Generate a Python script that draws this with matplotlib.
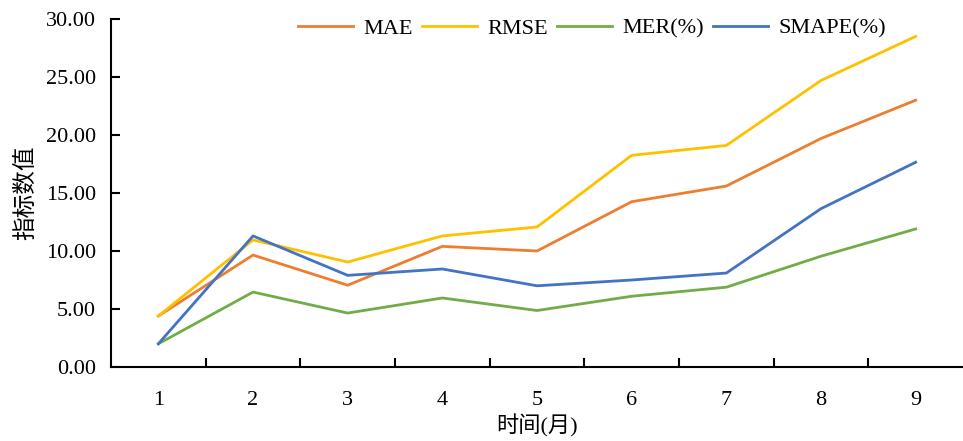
import matplotlib
matplotlib.use('Agg')
import numpy as np
from matplotlib import pyplot as plt
from matplotlib.ticker import FixedLocator, FormatStrFormatter

plt.rcParams['font.family'] = ['Liberation Serif', 'Noto Sans CJK SC']

# 数据
months = [1, 2, 3, 4, 5, 6, 7, 8, 9]
mae = [4.40, 9.65, 7.05, 10.40, 10.00, 14.25, 15.60, 19.70, 23.00]
rmse = [4.40, 10.95, 9.05, 11.30, 12.07, 18.25, 19.10, 24.70, 28.50]
mer = [2.00, 6.46, 4.65, 5.95, 4.87, 6.10, 6.88, 9.55, 11.90]
smape = [2.00, 11.30, 7.90, 8.45, 7.00, 7.50, 8.10, 13.65, 17.65]

series = [('MAE', mae, '#ED7D31'),
          ('RMSE', rmse, '#FFC000'),
          ('MER(%)', mer, '#70AD47'),
          ('SMAPE(%)', smape, '#4472C4')]

fig = plt.figure(figsize=(9.63, 4.41), dpi=100)
ax = fig.add_axes([0.1153, 0.1678, 0.8847, 0.7891])

for name, vals, color in series:
    ax.plot(months, vals, color=color, lw=2.0, label=name)

ax.set_xlim(0.5, 9.5)
ax.set_ylim(0, 30)
ax.set_yticks(np.arange(0, 31, 5))
ax.yaxis.set_major_formatter(FormatStrFormatter('%.2f'))
ax.set_xticks(months)
ax.xaxis.set_minor_locator(FixedLocator([m + 0.5 for m in months[:-1]]))

for side in ['top', 'right']:
    ax.spines[side].set_visible(False)
for side in ['left', 'bottom']:
    ax.spines[side].set_linewidth(1.5)

ax.tick_params(axis='y', direction='in', length=6.5, width=1.5, pad=11, labelsize=16)
ax.tick_params(axis='x', which='major', length=0, pad=17, labelsize=16)
ax.tick_params(axis='x', which='minor', direction='in', length=6.5, width=1.5)

ax.set_xlabel('时间(月)', fontsize=16, labelpad=3)
ax.set_ylabel('指标数值', fontsize=17, labelpad=6)

ax.legend(loc='upper center', bbox_to_anchor=(0.565, 1.06), ncol=4, frameon=False,
          fontsize=16, handlelength=2.45, handletextpad=0.5, columnspacing=0.4)

plt.savefig('out.png', dpi=100)
